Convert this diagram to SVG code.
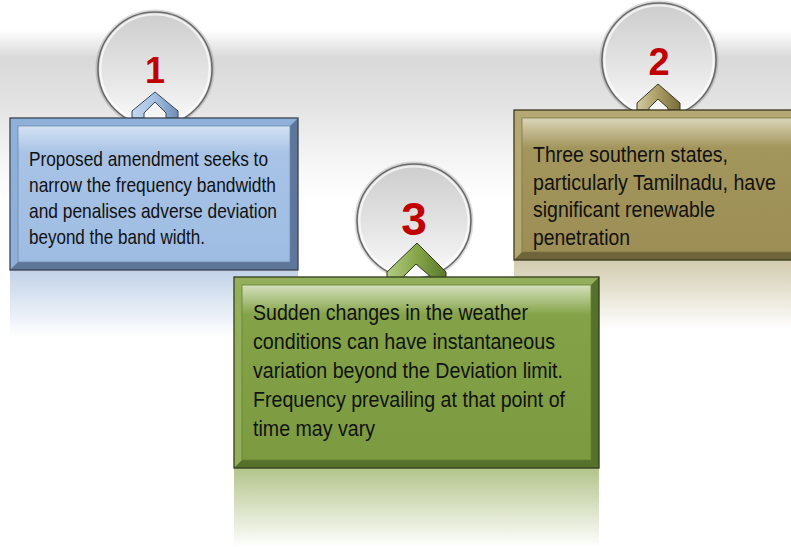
<svg xmlns="http://www.w3.org/2000/svg" width="791" height="547" viewBox="0 0 791 547">
<style>
.t{font-family:"Liberation Sans Narrow","Arial Narrow","Liberation Sans",sans-serif;fill:#111}
.t1{font-size:21px}
.t2{font-size:22.5px}
.t3{font-size:22px}
.num{font-family:"Liberation Sans","Open Sans",sans-serif;font-weight:bold;fill:#c00000;text-anchor:middle}
.circ{fill:url(#gCirc);stroke:#6a6a6a;stroke-width:1.6}
.ring{fill:none;stroke:#ffffff;stroke-opacity:0.7;stroke-width:2}
.halo{fill:none;stroke:#000;stroke-opacity:0.14;stroke-width:3}
.outer{stroke-width:1.3}
</style>
<defs>
<linearGradient id="gBg" x1="0" y1="0" x2="0" y2="547" gradientUnits="userSpaceOnUse">
<stop offset="0" stop-color="#ffffff"/>
<stop offset="0.055" stop-color="#ffffff"/>
<stop offset="0.105" stop-color="#d9d9d9"/>
<stop offset="0.19" stop-color="#e3e3e3"/>
<stop offset="0.3" stop-color="#f6f6f6"/>
<stop offset="0.37" stop-color="#ffffff"/>
<stop offset="1" stop-color="#ffffff"/>
</linearGradient>
<linearGradient id="gCirc" x1="0" y1="0" x2="0" y2="1">
<stop offset="0" stop-color="#cdcdcd"/>
<stop offset="0.55" stop-color="#e4e4e4"/>
<stop offset="1" stop-color="#fbfbfb"/>
</linearGradient>
<linearGradient id="gP1" x1="0" y1="0" x2="0" y2="1">
<stop offset="0" stop-color="#d4e2f3"/>
<stop offset="0.2" stop-color="#a8c3e6"/>
<stop offset="1" stop-color="#9ebce2"/>
</linearGradient>
<linearGradient id="gP2" x1="0" y1="0" x2="0" y2="1">
<stop offset="0" stop-color="#dbd5ba"/>
<stop offset="0.22" stop-color="#a3965d"/>
<stop offset="1" stop-color="#9c8e55"/>
</linearGradient>
<linearGradient id="gP3" x1="0" y1="0" x2="0" y2="1">
<stop offset="0" stop-color="#d4e0bc"/>
<stop offset="0.17" stop-color="#84a348"/>
<stop offset="1" stop-color="#7c9b40"/>
</linearGradient>
<linearGradient id="gR1" x1="0" y1="0" x2="0" y2="1">
<stop offset="0" stop-color="#c2d2e8"/>
<stop offset="1" stop-color="#ffffff"/>
</linearGradient>
<linearGradient id="gR2" x1="0" y1="0" x2="0" y2="1">
<stop offset="0" stop-color="#d2cbae"/>
<stop offset="1" stop-color="#ffffff"/>
</linearGradient>
<linearGradient id="gR3" x1="0" y1="0" x2="0" y2="1">
<stop offset="0" stop-color="#b3c48b"/>
<stop offset="1" stop-color="#ffffff"/>
</linearGradient>
<linearGradient id="gC1" x1="0" y1="0" x2="1" y2="0">
<stop offset="0" stop-color="#c5d8ee"/>
<stop offset="0.5" stop-color="#a3bfe2"/>
<stop offset="1" stop-color="#6f8db5"/>
</linearGradient>
<linearGradient id="gC2" x1="0" y1="0" x2="1" y2="0">
<stop offset="0" stop-color="#d3cba4"/>
<stop offset="0.5" stop-color="#a99b62"/>
<stop offset="1" stop-color="#786c3c"/>
</linearGradient>
<linearGradient id="gC3" x1="0" y1="0" x2="1" y2="0">
<stop offset="0" stop-color="#b4cc82"/>
<stop offset="0.5" stop-color="#86a64a"/>
<stop offset="1" stop-color="#5b772b"/>
</linearGradient>
</defs>

<rect x="0" y="0" width="791" height="547" fill="url(#gBg)"/>

<g id="connectors"></g>

<g id="node1">
<rect x="10" y="270" width="288" height="68" fill="url(#gR1)"/>
<circle class="halo" cx="155" cy="69" r="58"/>
<circle class="circ" cx="155" cy="69" r="57"/>
<circle class="ring" cx="155" cy="69" r="54.5"/>
<text class="num" x="155" y="83" font-size="36">1</text>
<polygon points="132,118 132,111 155,92 178,111 178,118 166,118 166,113 155,102 144,113 144,118" fill="url(#gC1)" stroke="#3b4756" stroke-width="1"/>
<rect class="outer" x="10" y="118" width="288" height="152" fill="#5d7699" stroke="#39434f"/>
<polygon points="10.7,118.7 297.3,118.7 290,126 18,126 18,262 10.7,269.3" fill="#8fb0d8"/>
<rect x="18" y="126" width="272" height="136" fill="url(#gP1)" stroke="#6e89ad" stroke-width="0.8"/>
<text class="t t1" x="29" y="166" textLength="239" lengthAdjust="spacingAndGlyphs">Proposed amendment seeks to</text>
<text class="t t1" x="29" y="192" textLength="247" lengthAdjust="spacingAndGlyphs">narrow the frequency bandwidth</text>
<text class="t t1" x="29" y="218" textLength="248" lengthAdjust="spacingAndGlyphs">and penalises adverse deviation</text>
<text class="t t1" x="29" y="244" textLength="176" lengthAdjust="spacingAndGlyphs">beyond the band width.</text>
</g>

<g id="node2">
<rect x="514" y="260" width="277" height="70" fill="url(#gR2)"/>
<circle class="halo" cx="659" cy="60" r="58"/>
<circle class="circ" cx="659" cy="60" r="57"/>
<circle class="ring" cx="659" cy="60" r="54.5"/>
<text class="num" x="659" y="75" font-size="38">2</text>
<polygon points="637,110 637,103 658,84 680,103 680,110 668,110 668,108 658,99 649,108 649,110" fill="url(#gC2)" stroke="#3a3620" stroke-width="1"/>
<rect class="outer" x="514" y="110" width="280" height="150" fill="#6f653a" stroke="#3a3620"/>
<polygon points="514.7,110.7 791,110.7 791,118 522,118 522,252 514.7,259.3" fill="#b4a873"/>
<rect x="522" y="118" width="272" height="134" fill="url(#gP2)" stroke="#7f7446" stroke-width="0.8"/>
<text class="t t2" x="533" y="162" textLength="195" lengthAdjust="spacingAndGlyphs">Three southern states,</text>
<text class="t t2" x="533" y="189.5" textLength="243" lengthAdjust="spacingAndGlyphs">particularly Tamilnadu, have</text>
<text class="t t2" x="533" y="217" textLength="182" lengthAdjust="spacingAndGlyphs">significant renewable</text>
<text class="t t2" x="533" y="244.5" textLength="97" lengthAdjust="spacingAndGlyphs">penetration</text>
</g>

<g id="node3">
<rect x="234" y="468" width="365" height="79" fill="url(#gR3)"/>
<circle class="halo" cx="414" cy="221" r="58"/>
<circle class="circ" cx="414" cy="221" r="57"/>
<circle class="ring" cx="414" cy="221" r="54.5"/>
<text class="num" x="414" y="235" font-size="46">3</text>
<polygon points="387,278 387,272 417,243 446,272 446,278 431,278 431,277 416,264 403,277 403,278" fill="url(#gC3)" stroke="#2f3b1a" stroke-width="1"/>
<rect class="outer" x="234" y="277" width="365" height="191" fill="#56712b" stroke="#2f3b1a"/>
<polygon points="234.7,277.7 598.3,277.7 591,285 242,285 242,460 234.7,467.3" fill="#94af5c"/>
<rect x="242" y="285" width="349" height="175" fill="url(#gP3)" stroke="#65812f" stroke-width="0.8"/>
<text class="t t3" x="253" y="320" textLength="275" lengthAdjust="spacingAndGlyphs">Sudden changes in the weather</text>
<text class="t t3" x="253" y="349" textLength="302" lengthAdjust="spacingAndGlyphs">conditions can have instantaneous</text>
<text class="t t3" x="253" y="378" textLength="310" lengthAdjust="spacingAndGlyphs">variation beyond the Deviation limit.</text>
<text class="t t3" x="253" y="407" textLength="312" lengthAdjust="spacingAndGlyphs">Frequency prevailing at that point of</text>
<text class="t t3" x="253" y="436" textLength="122" lengthAdjust="spacingAndGlyphs">time may vary</text>
</g>
</svg>
